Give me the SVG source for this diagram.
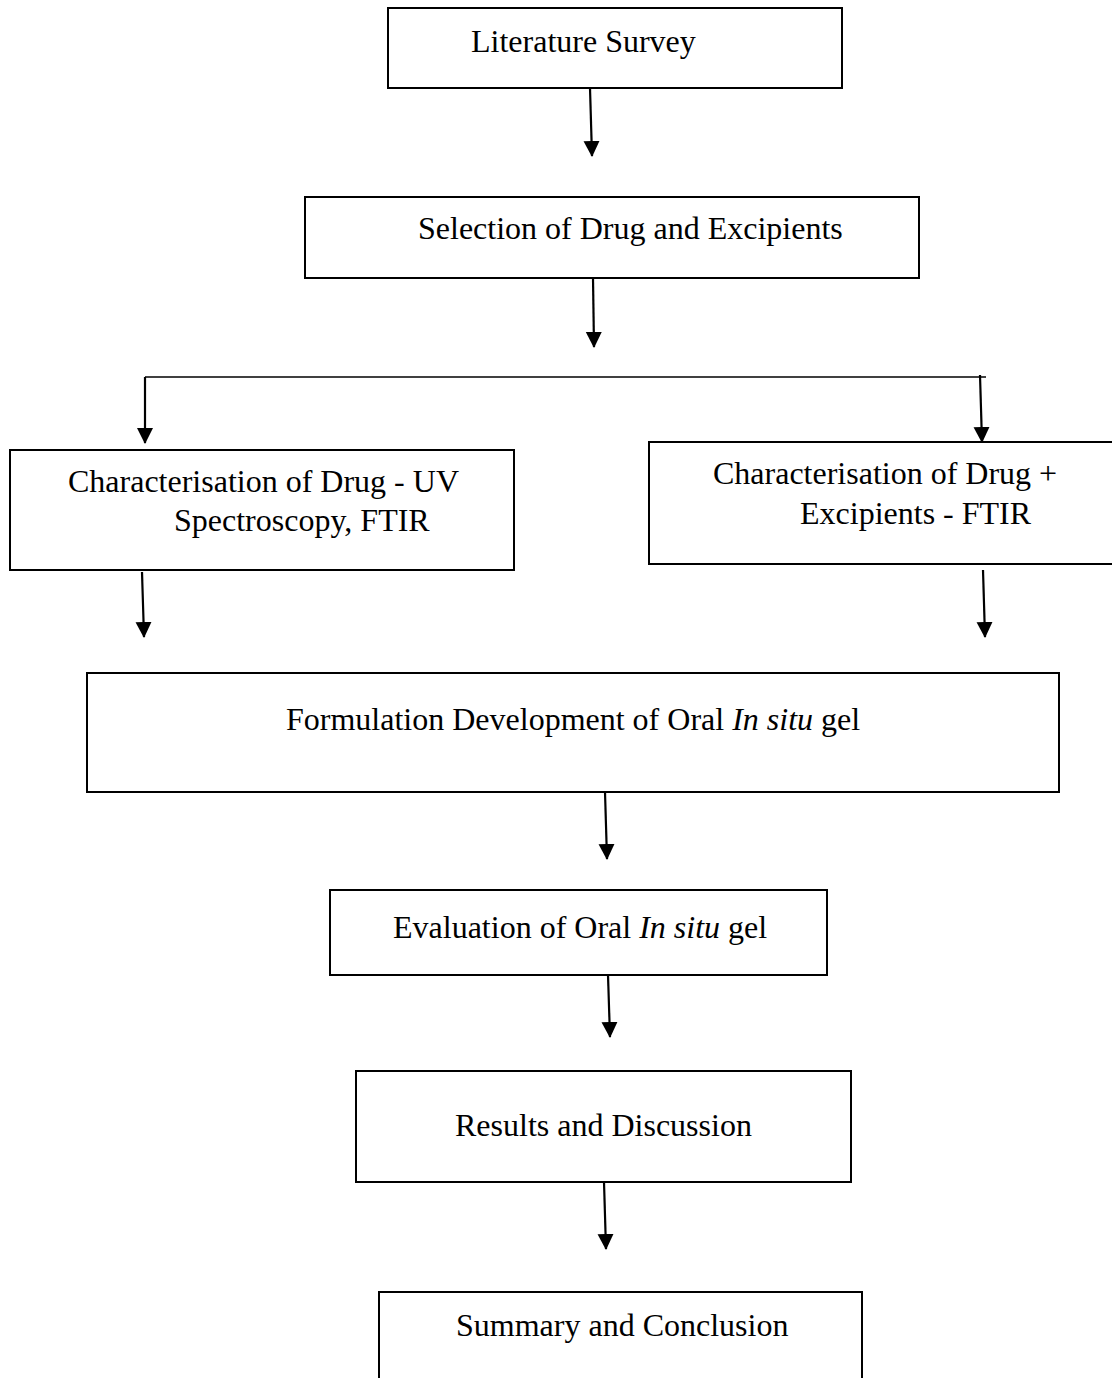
<svg xmlns="http://www.w3.org/2000/svg" width="1112" height="1378" viewBox="0 0 1112 1378">
<defs>
<style>
.box{fill:#fff;stroke:#000;stroke-width:2}
.t{font-family:"Liberation Serif","Times New Roman",serif;font-size:32px;fill:#000}
.c{stroke:#000;stroke-width:2.2;fill:none}
</style>
<marker id="ah" markerWidth="16" markerHeight="17" refX="15" refY="8" orient="auto" markerUnits="userSpaceOnUse" viewBox="0 0 16 16">
<path d="M0,0 L16,8 L0,16 Z" fill="#000"/>
</marker>
</defs>
<rect width="1112" height="1378" fill="#fff"/>
<g id="n1"><rect class="box" x="388" y="8" width="454" height="80"/><text class="t" x="471" y="52">Literature Survey</text></g>
<g id="n2"><rect class="box" x="305" y="197" width="614" height="81"/><text class="t" x="418" y="239">Selection of Drug and Excipients</text></g>
<g id="n3"><rect class="box" x="10" y="450" width="504" height="120"/><text class="t" x="68" y="492">Characterisation of Drug - UV</text><text class="t" x="174" y="531">Spectroscopy, FTIR</text></g>
<g id="n4"><rect class="box" x="649" y="442" width="470" height="122"/><text class="t" x="713" y="484">Characterisation of Drug +</text><text class="t" x="800" y="524">Excipients - FTIR</text></g>
<g id="n5"><rect class="box" x="87" y="673" width="972" height="119"/><text class="t" x="286" y="730">Formulation Development of Oral <tspan font-style="italic">In situ</tspan> gel</text></g>
<g id="n6"><rect class="box" x="330" y="890" width="497" height="85"/><text class="t" x="393" y="938">Evaluation of Oral <tspan font-style="italic">In situ</tspan> gel</text></g>
<g id="n7"><rect class="box" x="356" y="1071" width="495" height="111"/><text class="t" x="455" y="1136">Results and Discussion</text></g>
<g id="n8"><rect class="box" x="379" y="1292" width="483" height="100"/><text class="t" x="456" y="1336">Summary and Conclusion</text></g>
<g id="connectors">
<line class="c" x1="590" y1="88" x2="592" y2="156" marker-end="url(#ah)"/>
<line class="c" x1="593" y1="278" x2="594" y2="347" marker-end="url(#ah)"/>
<polyline class="c" points="986,377 145,377" style="stroke-width:1.5"/>
<line class="c" x1="145" y1="377" x2="145" y2="443" marker-end="url(#ah)"/>
<line class="c" x1="980" y1="375" x2="982" y2="442" marker-end="url(#ah)"/>
<line class="c" x1="142" y1="572" x2="144" y2="637" marker-end="url(#ah)"/>
<line class="c" x1="983" y1="570" x2="985" y2="637" marker-end="url(#ah)"/>
<line class="c" x1="605" y1="792" x2="607" y2="859" marker-end="url(#ah)"/>
<line class="c" x1="608" y1="975" x2="610" y2="1037" marker-end="url(#ah)"/>
<line class="c" x1="604" y1="1182" x2="606" y2="1249" marker-end="url(#ah)"/>
</g>
</svg>
